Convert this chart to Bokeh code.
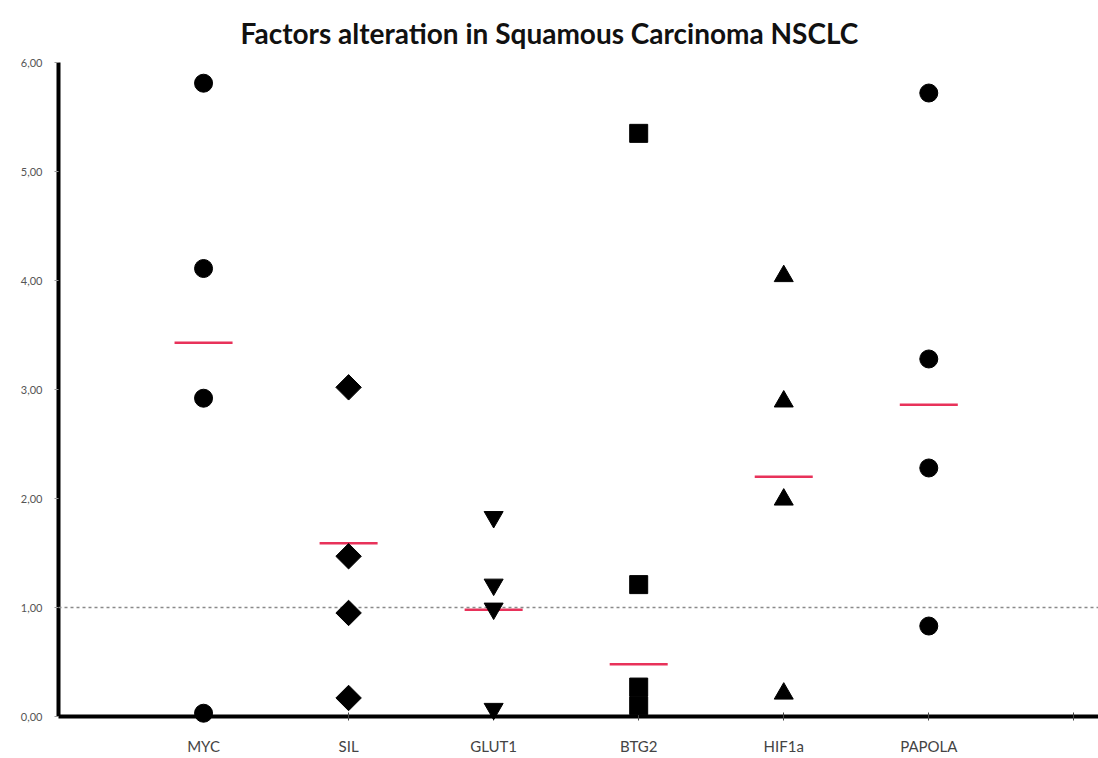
from bokeh.plotting import figure
from bokeh.models import Range1d, FixedTicker, Span
from bokeh.embed import file_html
from bokeh.resources import INLINE
import math

title_text = "Factors alteration in Squamous Carcinoma NSCLC"
categories = ["MYC", "SIL", "GLUT1", "BTG2", "HIF1a", "PAPOLA"]
myc = [5.81, 4.11, 2.92, 0.03]
sil = [3.02, 1.47, 0.95, 0.17]
glut1 = [1.83, 1.21, 0.99, 0.07]
btg2 = [5.35, 1.21, 0.27, 0.10]
hif1a = [4.04, 2.89, 1.99, 0.21]
papola = [5.72, 3.28, 2.28, 0.83]
center_lines = [3.43, 1.59, 0.98, 0.48, 2.20, 2.86]
y_ticks = [0, 1, 2, 3, 4, 5, 6]
y_tick_labels = ["0,00", "1,00", "2,00", "3,00", "4,00", "5,00", "6,00"]

series = [myc, sil, glut1, btg2, hif1a, papola]
markers = ["circle", "square", "inverted_triangle", "square", "triangle", "circle"]
angles = [0, math.pi / 4, 0, 0, 0, 0]
sizes = [18, 18, 19, 18, 19, 18]

p = figure(width=1098, height=758, output_backend="svg", toolbar_location=None,
           x_range=Range1d(0, 7.17), y_range=Range1d(0, 6.0),
           min_border_left=58, min_border_right=0, min_border_bottom=42,
           min_border_top=0)
p.title.text = title_text
p.title.align = "left"
p.title.offset = 182
p.title.text_font = "Lato"
p.title.text_font_style = "bold"
p.title.text_font_size = "28px"
p.title.text_color = "#111111"
p.title.standoff = 26

p.grid.visible = False
p.outline_line_color = None
p.background_fill_color = "white"

# reference line at 1
p.add_layout(Span(location=1, dimension="width", line_color="#8a8a8a",
                  line_dash="3 3", line_width=1.5))

for i, v in enumerate(center_lines):
    p.segment(x0=[i + 1 - 0.2], y0=[v], x1=[i + 1 + 0.2], y1=[v],
              line_color="#e8325a", line_width=2.5)

for i, (vals, m, s, a) in enumerate(zip(series, markers, sizes, angles)):
    xs = [i + 1] * len(vals)
    p.scatter(xs, vals, marker=m, size=s, angle=a, fill_color="black",
              line_color="black", level="overlay")

# x axis
xa = p.xaxis[0]
xa.ticker = FixedTicker(ticks=list(range(1, 8)))
xa.major_label_overrides = {i + 1: c for i, c in enumerate(categories)}
xa.major_label_overrides[7] = ""
xa.axis_line_width = 4
xa.axis_line_color = "black"
xa.major_tick_in = 4
xa.major_tick_out = 4
xa.major_tick_line_color = "#444444"
xa.minor_tick_line_color = None
xa.major_label_text_font = "Lato"
xa.major_label_text_font_size = "15px"
xa.major_label_text_color = "#444444"
xa.major_label_standoff = 16

ya = p.yaxis[0]
ya.ticker = FixedTicker(ticks=y_ticks)
ya.major_label_overrides = {t: l for t, l in zip(y_ticks, y_tick_labels)}
ya.axis_line_width = 4
ya.axis_line_color = "black"
ya.major_tick_in = 0
ya.major_tick_out = 4
ya.major_tick_line_color = "#999999"
ya.minor_tick_line_color = None
ya.major_label_text_font = "Lato"
ya.major_label_text_font_size = "11px"
ya.major_label_text_color = "#555555"
ya.major_label_standoff = 12

open("out.html", "w").write(file_html(p, INLINE))
